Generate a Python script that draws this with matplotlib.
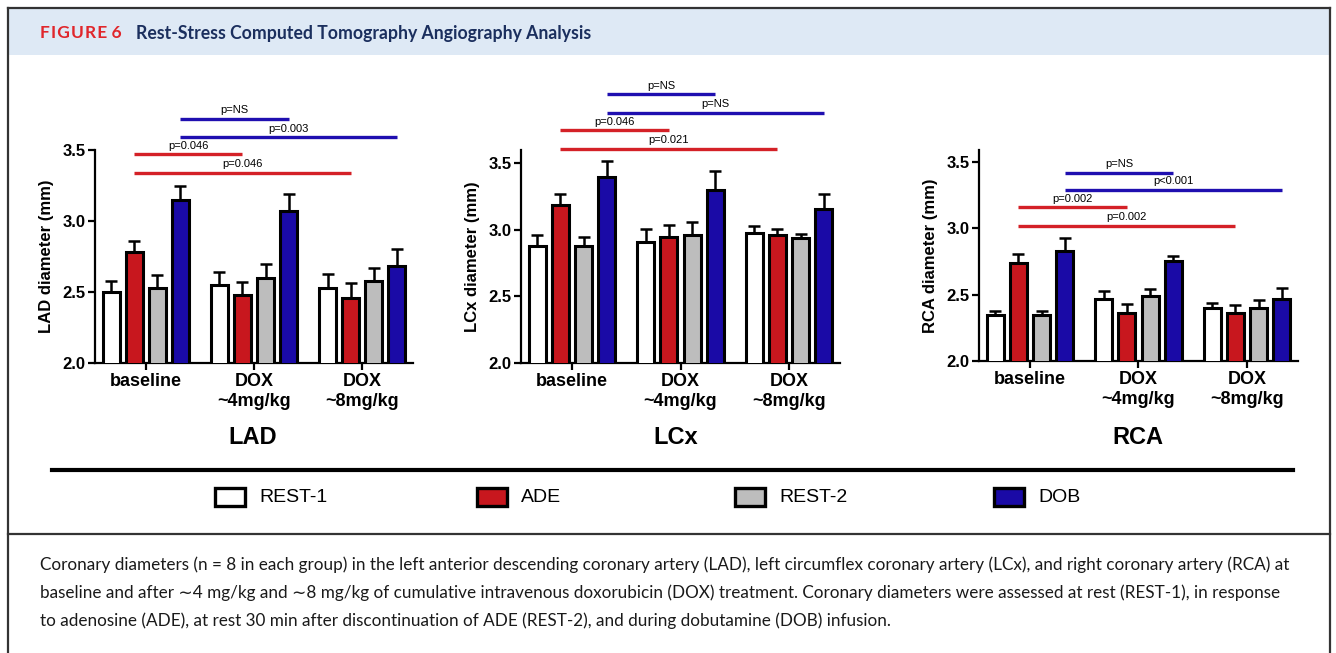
import numpy as np
import matplotlib
matplotlib.use("Agg")
import matplotlib.pyplot as plt
from matplotlib.patches import Rectangle
from matplotlib.lines import Line2D

plt.rcParams['font.family'] = ['Liberation Sans', 'DejaVu Sans']

# groups and conditions
groups = ['baseline', 'DOX\n~4mg/kg', 'DOX\n~8mg/kg']
conditions = ['REST-1', 'ADE', 'REST-2', 'DOB']
colors = ['#ffffff', '#c8171e', '#bdbdbd', '#1a0aa6']

# mean diameters (mm), one row per condition, one column per group
lad_mean = [[2.50, 2.55, 2.53],
            [2.78, 2.48, 2.46],
            [2.53, 2.60, 2.58],
            [3.15, 3.07, 2.68]]
lad_err = [[0.08, 0.09, 0.10],
           [0.08, 0.09, 0.10],
           [0.09, 0.10, 0.09],
           [0.10, 0.12, 0.12]]

lcx_mean = [[2.88, 2.91, 2.98],
            [3.19, 2.95, 2.96],
            [2.88, 2.96, 2.94],
            [3.40, 3.30, 3.16]]
lcx_err = [[0.08, 0.10, 0.05],
           [0.08, 0.09, 0.05],
           [0.07, 0.10, 0.03],
           [0.12, 0.14, 0.11]]

rca_mean = [[2.35, 2.47, 2.40],
            [2.74, 2.36, 2.36],
            [2.35, 2.49, 2.40],
            [2.83, 2.75, 2.47]]
rca_err = [[0.03, 0.06, 0.04],
           [0.07, 0.07, 0.06],
           [0.03, 0.05, 0.06],
           [0.10, 0.04, 0.08]]

# significance brackets: (condition, from group, to group, height, label)
lad_sig = [(3, 0, 1, 3.72, 'p=NS'), (3, 0, 2, 3.59, 'p=0.003'),
           (1, 0, 1, 3.47, 'p=0.046'), (1, 0, 2, 3.34, 'p=0.046')]
lcx_sig = [(3, 0, 1, 4.02, 'p=NS'), (3, 0, 2, 3.88, 'p=NS'),
           (1, 0, 1, 3.75, 'p=0.046'), (1, 0, 2, 3.61, 'p=0.021')]
rca_sig = [(3, 0, 1, 3.42, 'p=NS'), (3, 0, 2, 3.29, 'p<0.001'),
           (1, 0, 1, 3.16, 'p=0.002'), (1, 0, 2, 3.02, 'p=0.002')]

W, H = 1336, 653
fig = plt.figure(figsize=(W / 100, H / 100), dpi=100)


def fx(x):
    return x / W


def fy(y):
    return 1 - y / H


step = 0.213
width = 0.157
offsets = (np.arange(4) - 1.5) * step


def panel(rect, means, errs, sig, ylabel, ytop):
    ax = fig.add_axes(rect)
    x = np.arange(len(groups))
    for i in range(4):
        ax.errorbar(x + offsets[i], means[i], yerr=[np.zeros(3), errs[i]], fmt='none',
                    ecolor='black', elinewidth=1.8, capsize=4, capthick=1.8, zorder=2)
        ax.bar(x + offsets[i], means[i], width, color=colors[i], edgecolor='black',
               linewidth=2.2, zorder=3)
    for cond, g0, g1, yy, lab in sig:
        c = '#d42127' if cond == 1 else '#1f0fb0'
        x0 = g0 + offsets[cond]
        x1 = g1 + offsets[cond]
        ax.plot([x0, x1], [yy, yy], color=c, lw=2.4, clip_on=False, solid_capstyle='butt')
        ax.text((x0 + x1) / 2, yy + 0.025, lab, ha='center', va='bottom', fontsize=8,
                clip_on=False)
    ax.set_xlim(-0.47, 2.47)
    ax.set_ylim(2.0, ytop)
    ax.set_yticks([2.0, 2.5, 3.0, 3.5])
    ax.set_yticklabels(['2.0', '2.5', '3.0', '3.5'], fontweight='bold', fontsize=12)
    ax.set_xticks(x)
    ax.set_xticklabels(groups, fontweight='bold', fontsize=13, linespacing=1.25)
    ax.set_ylabel(ylabel, fontweight='bold', fontsize=12, labelpad=6)
    for s in ['top', 'right']:
        ax.spines[s].set_visible(False)
    for s in ['left', 'bottom']:
        ax.spines[s].set_linewidth(1.6)
    ax.tick_params(axis='both', width=1.6, length=5, pad=2)
    ax.set_facecolor('none')
    return ax


panel([fx(95), fy(363), fx(413) - fx(95), fy(150) - fy(363)], lad_mean, lad_err, lad_sig,
      'LAD diameter (mm)', 3.5)
panel([fx(521), fy(363), fx(840) - fx(521), fy(150) - fy(363)], lcx_mean, lcx_err, lcx_sig,
      'LCx diameter (mm)', 3.6)
panel([fx(979), fy(361), fx(1298) - fx(979), fy(150) - fy(361)], rca_mean, rca_err, rca_sig,
      'RCA diameter (mm)', 3.59)

# panel names
for name, xc in [('LAD', 253), ('LCx', 676), ('RCA', 1138)]:
    fig.text(fx(xc), fy(437), name, ha='center', va='center', fontsize=17, fontweight='bold')

# header band and frame
fig.patches.append(Rectangle((fx(8), fy(55)), fx(1330) - fx(8), fy(9) - fy(55),
                             transform=fig.transFigure, facecolor='#dee9f5', edgecolor='none',
                             zorder=0))
frame = dict(transform=fig.transFigure, color='#333333', lw=1.6)
fig.lines.append(Line2D([fx(8), fx(1330)], [fy(8), fy(8)], **frame))
fig.lines.append(Line2D([fx(8), fx(8)], [fy(8), 0], **frame))
fig.lines.append(Line2D([fx(1330), fx(1330)], [fy(8), 0], **frame))
fig.lines.append(Line2D([fx(8), fx(1330)], [fy(534), fy(534)], **frame))

fig.text(fx(40), fy(33), 'F I G U R E  6'.replace(' ', '\u200a').replace('\u200a\u200a', ' '),
         color='#e0262b', fontsize=12.5, fontweight='bold',
         family=['Lato', 'DejaVu Sans'], va='center')
fig.text(fx(136), fy(33), 'Rest-Stress Computed Tomography Angiography Analysis',
         color='#1b2f5e', fontsize=12.7, fontweight='bold', family=['Lato', 'DejaVu Sans'],
         va='center')

# legend
fig.lines.append(Line2D([fx(52), fx(1293)], [fy(470), fy(470)], transform=fig.transFigure,
                        color='black', lw=3))
for i, (lab, xs) in enumerate(zip(conditions, [215, 477, 735, 994])):
    fig.patches.append(Rectangle((fx(xs), fy(506)), fx(30), fy(488) - fy(506),
                                 transform=fig.transFigure, facecolor=colors[i],
                                 edgecolor='black', lw=2.4))
    fig.text(fx(xs + 44), fy(497), lab, fontsize=14, va='center')

# caption
caption = [
    'Coronary diameters (n = 8 in each group) in the left anterior descending coronary artery (LAD), '
    'left circumflex coronary artery (LCx), and right coronary artery (RCA) at',
    'baseline and after \u223c4 mg/kg and \u223c8 mg/kg of cumulative intravenous doxorubicin (DOX) '
    'treatment. Coronary diameters were assessed at rest (REST-1), in response',
    'to adenosine (ADE), at rest 30 min after discontinuation of ADE (REST-2), and during '
    'dobutamine (DOB) infusion.',
]
for k, line in enumerate(caption):
    fig.text(fx(40), fy(565 + 28 * k), line, fontsize=12.3, va='center', color='#1a1a1a',
             family=['Lato', 'DejaVu Sans'])

fig.savefig('out.png', dpi=100)
